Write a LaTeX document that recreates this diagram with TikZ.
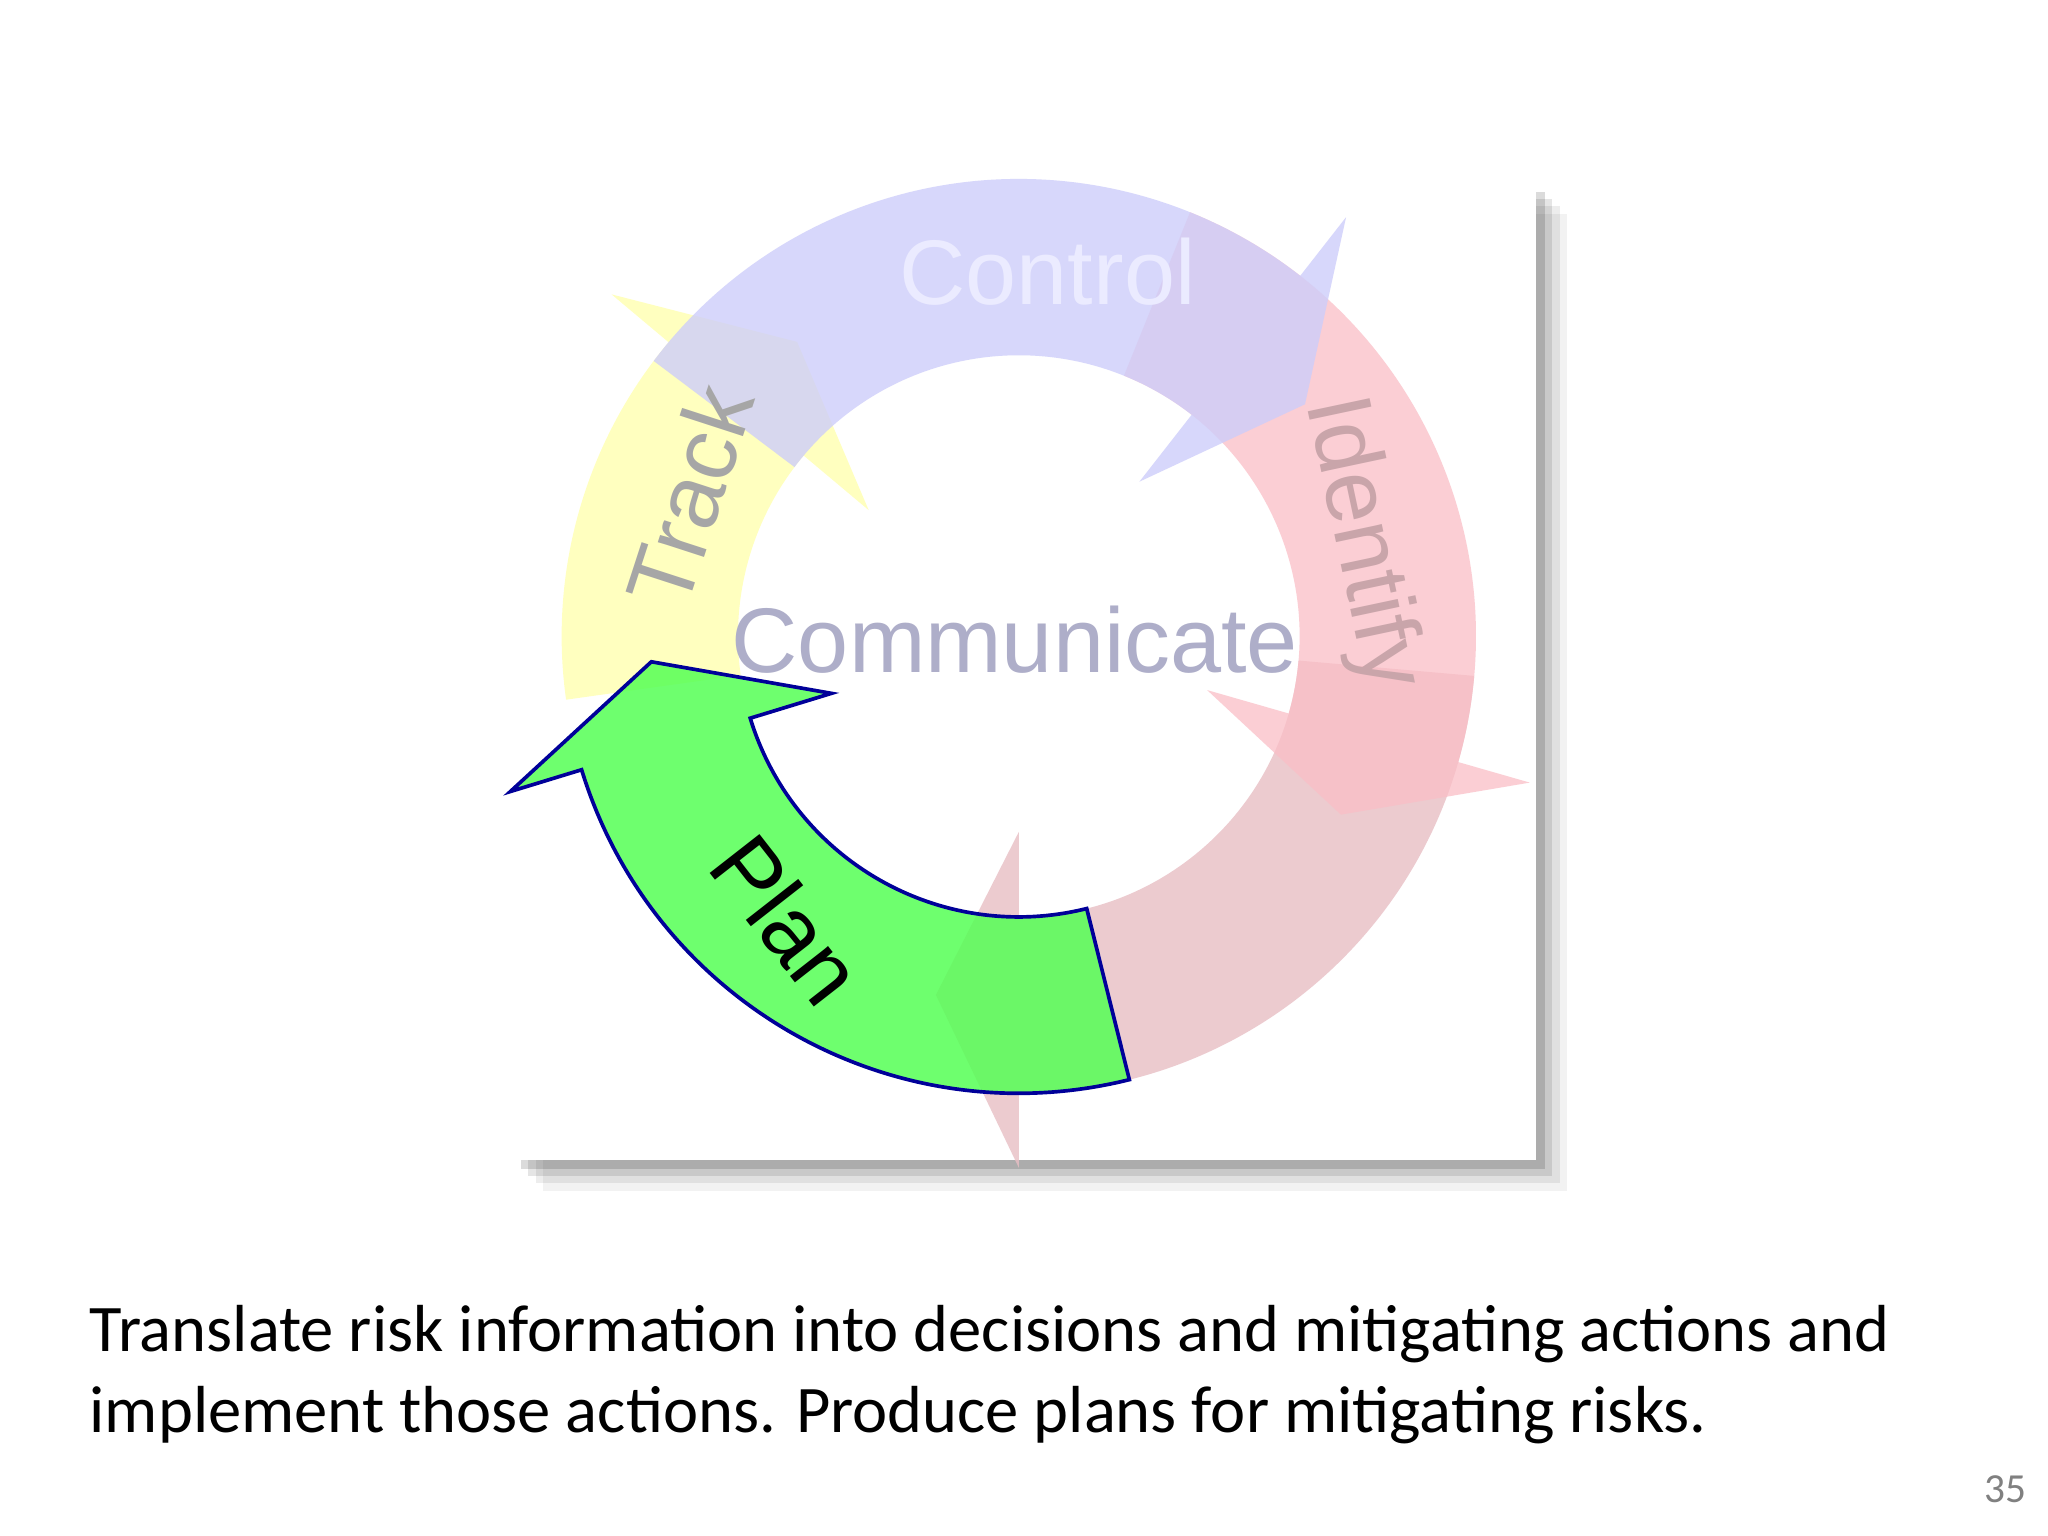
\documentclass[tikz,border=0pt]{standalone}
\usepackage{fontspec}
\setmainfont{Carlito}
\newfontfamily\arialf{Liberation Sans}
\definecolor{lav}{RGB}{205,205,250}
\definecolor{yel}{RGB}{255,255,185}
\definecolor{pnk}{RGB}{250,190,198}
\definecolor{pnk2}{RGB}{232,190,196}
\definecolor{grn}{RGB}{85,255,85}
\newcommand\cyclearrow[4]{%
  \fill[#4] ($(c)+(#1:350)$) arc[start angle=#1,end angle=#2,radius=350]
    -- ($(c)+(#2:407)$) -- ($(c)+(#3:282)$) -- ($(c)+(#2:150)$) -- ($(c)+(#2:215)$)
    arc[start angle=#2,end angle=#1,radius=215] -- cycle;}
\usetikzlibrary{calc}
\begin{document}
\begin{tikzpicture}[x=0.1mm,y=0.1mm,
  lbl/.style={font=\arialf\fontsize{20}{24}\selectfont},
  captext/.style={font=\fontsize{14.5}{17}\selectfont,anchor=base west,inner sep=0}]
\useasboundingbox (0,0) rectangle (1568,1176);
\fill[white] (0,0) rectangle (1568,1176);
% shadow
\foreach \d/\o in {24/0.05,18/0.07,12/0.1,7/0.14}{
  \fill[black,opacity=\o] (392+\d,288-\d) rectangle (1176+\d,1036-\d);}
\fill[white] (392,288) rectangle (1176,1036);
\coordinate (c) at (780,689);
\cyclearrow{-5}{-90}{-103}{pnk2,opacity=0.8}
\cyclearrow{68}{-16}{-29}{pnk,opacity=0.75}
\cyclearrow{-172}{-220}{-233}{yel,opacity=0.9}
\cyclearrow{143}{52}{39}{lav,opacity=0.8}
\cyclearrow{-76}{-163}{-176}{grn,opacity=0.85}
\draw[blue!60!black,line width=0.8pt] ($(c)+(-76:350)$) arc[start angle=-76,end angle=-163,radius=350]
    -- ($(c)+(-163:407)$) -- ($(c)+(-176:282)$) -- ($(c)+(-163:150)$) -- ($(c)+(-163:215)$)
    arc[start angle=-163,end angle=-76,radius=215] -- cycle;
\node[lbl,text=white!92!blue] (ctl) at (802,968) {Control};
\node[lbl,text=gray!70,rotate=72] (trk) at (528,796) {Track};
\node[lbl,text=pnk!60!gray,rotate=-78] (idf) at (1042,760) {Identify};
\node[lbl,text=lav!60!gray] (com) at (777,686) {Communicate};
\node[lbl,text=black,rotate=-52] (pln) at (603,472) {Plan};
\node[captext] (t1) at (68,141) {Translate risk information into decisions and mitigating actions and};
\node[captext] (t2) at (68,79) {implement those actions. Produce plans for mitigating risks.};
\node[font=\fontsize{9}{11}\selectfont,text=gray,anchor=base east,inner sep=0] (pg) at (1552,26) {35};
\end{tikzpicture}
\end{document}
